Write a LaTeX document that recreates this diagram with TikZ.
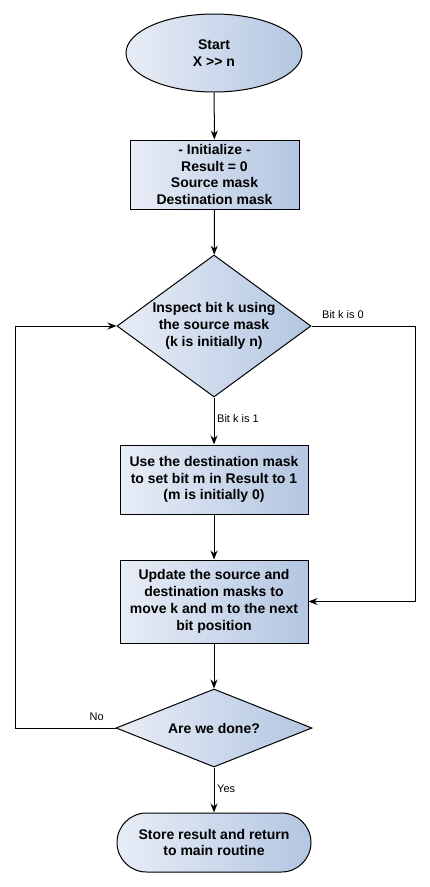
\documentclass[tikz,border=0pt]{standalone}
\usepackage{fontspec}
\setmainfont{Liberation Sans}
\usetikzlibrary{shapes.geometric,arrows.meta}
\definecolor{fillL}{HTML}{E8EDF6}
\definecolor{fillR}{HTML}{B3C6E1}
\begin{document}
\begin{tikzpicture}[x=1pt,y=-1pt,
  base/.style={draw=black, line width=1pt, left color=fillL, right color=fillR,
    font=\fontsize{14}{16.8}\selectfont\bfseries, align=center, inner sep=0pt},
  procbox/.style={base, rectangle},
  termbox/.style={base, ellipse},
  roundbox/.style={base, rectangle, rounded corners=29.5pt},
  decbox/.style={base, diamond},
  conn/.style={line width=1pt, -{Stealth[length=9pt,width=7pt]}},
  lbl/.style={font=\fontsize{11}{12}\selectfont, inner sep=0pt}]
\useasboundingbox (0,0) rectangle (430,887);
\fill[white] (0,0) rectangle (430,887);

\node[termbox, minimum width=176pt, minimum height=78pt] (start) at (214,53) {Start\\X >\kern0pt> n};
\node[procbox, minimum width=169pt, minimum height=69pt] (init) at (214.5,174.5) {- Initialize -\\Result = 0\\Source mask\\Destination mask};
\node[decbox, aspect=1.37, minimum width=194pt, minimum height=142pt] (dec1) at (214,326) {Inspect bit k using\\the source mask\\(k is initially n)};
\node[procbox, minimum width=188pt, minimum height=69pt] (use) at (214,479.5) {Use the destination mask\\to set bit m in Result to 1\\(m is initially 0)};
\node[procbox, minimum width=188pt, minimum height=83pt] (update) at (214,601.5) {Update the source and\\destination masks to\\move k and m to the next\\bit position};
\node[decbox, aspect=2.5, minimum width=196pt, minimum height=78pt] (dec2) at (214,728) {Are we done?};
\node[roundbox, minimum width=194pt, minimum height=59pt] (end) at (214,842.5) {Store result and return\\to main routine};

\coordinate (r1) at (415,326);
\coordinate (l1) at (15,728);

\draw[conn] (start) -- (init);
\draw[conn] (init) -- (dec1);
\draw[conn] (dec1.south) -- (use.north);
\draw[conn] (use) -- (update);
\draw[conn] (update) -- (dec2);
\draw[conn] (dec2.south) -- (end.north);
\draw[conn] (dec1.east) -- (r1) |- (update.east);
\draw[conn] (dec2.west) -- (l1) |- (dec1.west);

\node[lbl, anchor=west] (lb1) at (217,419) {Bit k is 1};
\node[lbl, anchor=base west] (lb0) at (322,318) {Bit k is 0};
\node[lbl, anchor=base east] (lno) at (104,720) {No};
\node[lbl, anchor=west] (lyes) at (217,789) {Yes};
\end{tikzpicture}
\end{document}
